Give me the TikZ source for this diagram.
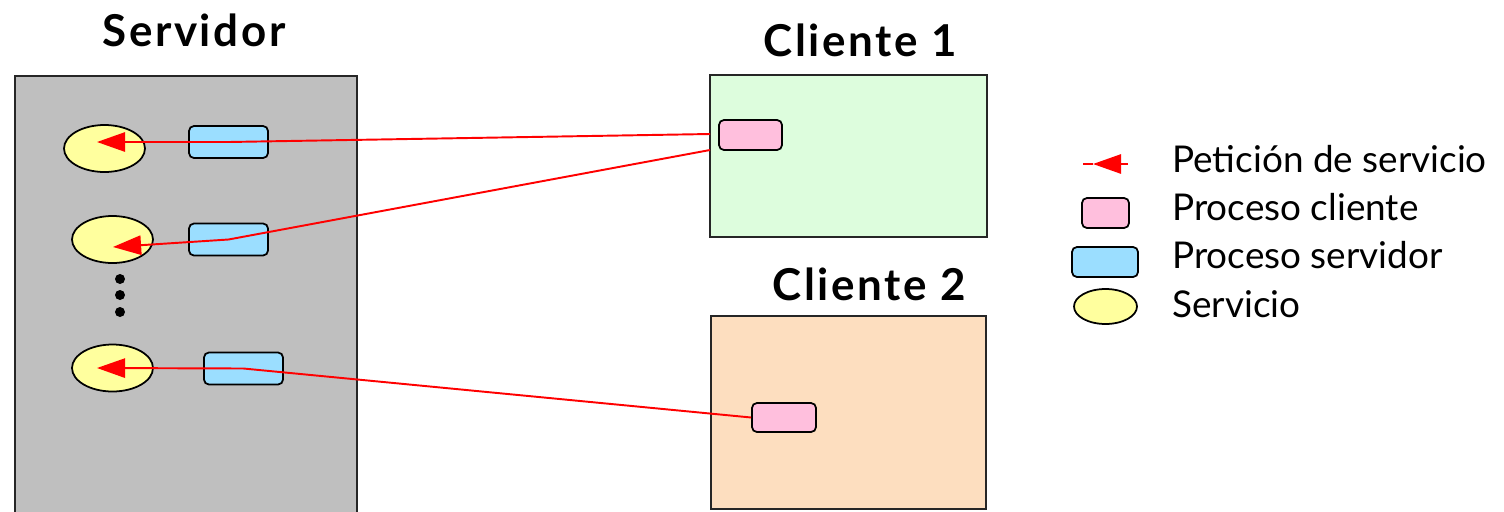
\documentclass[tikz,border=0pt]{standalone}
\usepackage{fontspec}
\setmainfont{Lato}
\usetikzlibrary{arrows.meta,shapes.geometric}

\definecolor{srvgray}{RGB}{191,191,191}
\definecolor{procblue}{RGB}{155,222,255}
\definecolor{procpink}{RGB}{255,191,221}
\definecolor{svcyellow}{RGB}{255,255,158}
\definecolor{cligreen}{RGB}{221,253,221}
\definecolor{clipeach}{RGB}{253,222,191}

\begin{document}
\begin{tikzpicture}[x=0.02cm, y=-0.02cm,
            box/.style={draw=black!85,line width=1.1pt,inner sep=0pt},
            sv/.style={ellipse,draw=black,line width=1pt,fill=svcyellow,inner sep=0pt,minimum width=1.62cm,minimum height=0.94cm},
            sp/.style={rectangle,rounded corners=2.8pt,draw=black,line width=1pt,fill=procblue,inner sep=0pt,minimum width=1.58cm,minimum height=0.64cm},
            cp/.style={rectangle,rounded corners=2.8pt,draw=black,line width=1pt,fill=procpink,inner sep=0pt,minimum width=1.26cm,minimum height=0.6cm},
            req/.style={draw=red,line width=1.1pt,-{Triangle[length=16pt,width=11pt]}},
            title/.style={font=\fontsize{25}{29}\selectfont\bfseries\addfontfeature{LetterSpace=6},anchor=base},
            lab/.style={font=\fontsize{21}{25}\selectfont,anchor=base west,inner sep=0pt}]
            \useasboundingbox (0,0) rectangle (1504,511);

            % server and clients
            \draw[box,fill=srvgray] (15,520) |- (357,76) -- (357,520);
            \node[box,fill=cligreen,minimum width=5.54cm,minimum height=3.24cm] (cl1) at (848.5,156) {};
            \node[box,fill=clipeach,minimum width=5.5cm,minimum height=3.86cm] (cl2) at (848.5,412.5) {};

            \node[title] (tsrv) at (194,46) {Servidor};
            \node[title] (tcl1) at (860,56) {Cliente 1};
            \node[title] (tcl2) at (869,300) {Cliente 2};

            % services and server processes
            \node[sv] (sv1) at (104.5,148.5) {};
            \node[sv] (sv2) at (112.5,239.5) {};
            \node[sv] (sv3) at (112.5,368) {};
            \node[sp] (sp1) at (228.5,142) {};
            \node[sp] (sp2) at (228.5,239.5) {};
            \node[sp] (sp3) at (243.5,368.5) {};
            \foreach \y in {279,295,312}
                \fill (120,\y) circle (0.1cm);

            % client processes
            \node[cp] (cp1) at (750.5,135) {};
            \node[cp,minimum width=1.28cm,minimum height=0.58cm] (cp2) at (784,417.5) {};

            \coordinate (q1) at (710,134);
            \coordinate (q2) at (710,150);
            \coordinate (t1) at (97,142);
            \coordinate (t2) at (113,247);
            \coordinate (t3) at (97,368);

            \draw[req] (q1) -- (sp1.center) -- (t1);
            \draw[req] (q2) -- (sp2.center) -- (t2);
            \draw[req] (cp2.west) -- (sp3.center) -- (t3);

            % legend
            \coordinate (la0) at (1083,164);
            \coordinate (la1) at (1093,164);
            \coordinate (la2) at (1128,164);
            \draw[req] (la2) -- (la1);
            \draw[red,line width=1.1pt] (la1) -- (la0);
            \node[cp,minimum width=0.94cm] (lcp) at (1105.5,213) {};
            \node[sp,minimum width=1.32cm,minimum height=0.6cm] (lsp) at (1105,262) {};
            \node[sv,minimum width=1.26cm,minimum height=0.7cm] (lsv) at (1105.5,306.5) {};

            \node[lab] (l1) at (1172,172) {Petición de servicio};
            \node[lab] (l2) at (1172,220) {Proceso cliente};
            \node[lab] (l3) at (1172,268) {Proceso servidor};
            \node[lab] (l4) at (1172,317) {Servicio};
        \end{tikzpicture}
\end{document}
